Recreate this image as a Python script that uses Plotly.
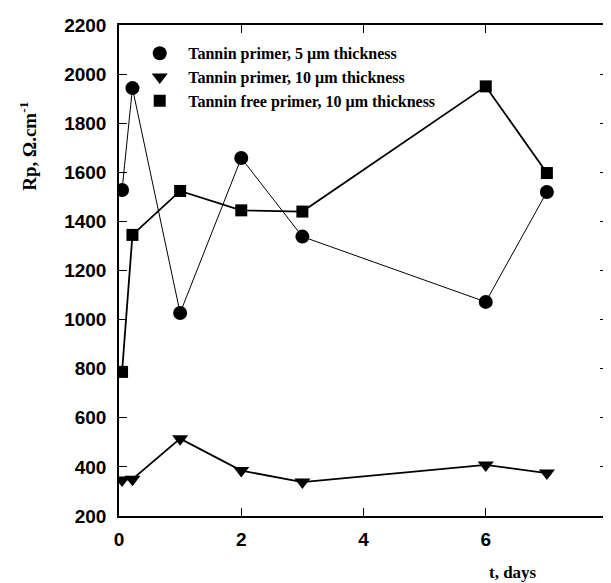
import plotly.graph_objects as go

days = [0.05, 0.22, 1, 2, 3, 6, 7]
rp_tannin_5um = [1528, 1943, 1027, 1658, 1338, 1072, 1520]
rp_tannin_10um = [347, 350, 515, 385, 338, 408, 375]
rp_free_10um = [787, 1345, 1524, 1445, 1440, 1950, 1597]

names = ["Tannin primer, 5 µm thickness",
         "Tannin primer, 10 µm thickness",
         "Tannin free primer, 10 µm thickness"]
series = [rp_tannin_5um, rp_tannin_10um, rp_free_10um]
symbols = ["circle", "triangle-down", "square"]
sizes = [14, 14, 12]
widths = [1, 1.8, 1.8]

fig = go.Figure()
for name, ys, sym, sz, w in zip(names, series, symbols, sizes, widths):
    fig.add_trace(go.Scatter(x=days, y=ys, name=name, mode="lines+markers", showlegend=False,
                             line=dict(color="black", width=w),
                             marker=dict(symbol=sym, size=sz, color="black")))
for name, sym, sz in zip(names, symbols, sizes):
    fig.add_trace(go.Scatter(x=[None], y=[None], name=name, mode="markers",
                             marker=dict(symbol=sym, size=sz, color="black")))

axis_common = dict(showgrid=False, zeroline=False, showline=True, linecolor="black",
                   linewidth=1.5, mirror="ticks", ticks="inside", ticklen=8,
                   tickcolor="black", tickwidth=1.2, automargin=False,
                   ticklabeloverflow="allow",
                   tickfont=dict(family="Liberation Sans", size=19, color="black", weight="bold"))

fig.update_layout(
    width=603, height=575,
    margin=dict(l=111, r=3, t=17, b=67),
    paper_bgcolor="white", plot_bgcolor="white",
    showlegend=True,
    legend=dict(x=0.025, y=0.977, xanchor="left", yanchor="top",
                bgcolor="rgba(0,0,0,0)",
                font=dict(family="Liberation Serif", size=16, color="black", weight="bold"),
                tracegroupgap=0, itemwidth=47),
    xaxis=dict(range=[0, 8], tickvals=[0, 2, 4, 6, 8], ticklabelstandoff=5, **axis_common),
    yaxis=dict(range=[200, 2200], tickvals=list(range(200, 2201, 200)), ticklabelstandoff=7,
               **axis_common),
)

fig.add_annotation(text="<b>Rp, Ω.cm<sup>-1</sup></b>", xref="paper", yref="paper",
                   x=-0.186, y=0.752, xanchor="center", yanchor="middle", textangle=-90,
                   showarrow=False, font=dict(family="Liberation Serif", size=19, color="black"))
fig.add_annotation(text="<b>t, days</b>", xref="paper", yref="paper",
                   x=0.806, y=-0.116, xanchor="center", yanchor="middle",
                   showarrow=False, font=dict(family="Liberation Serif", size=17, color="black"))

fig.write_html("out.html")
